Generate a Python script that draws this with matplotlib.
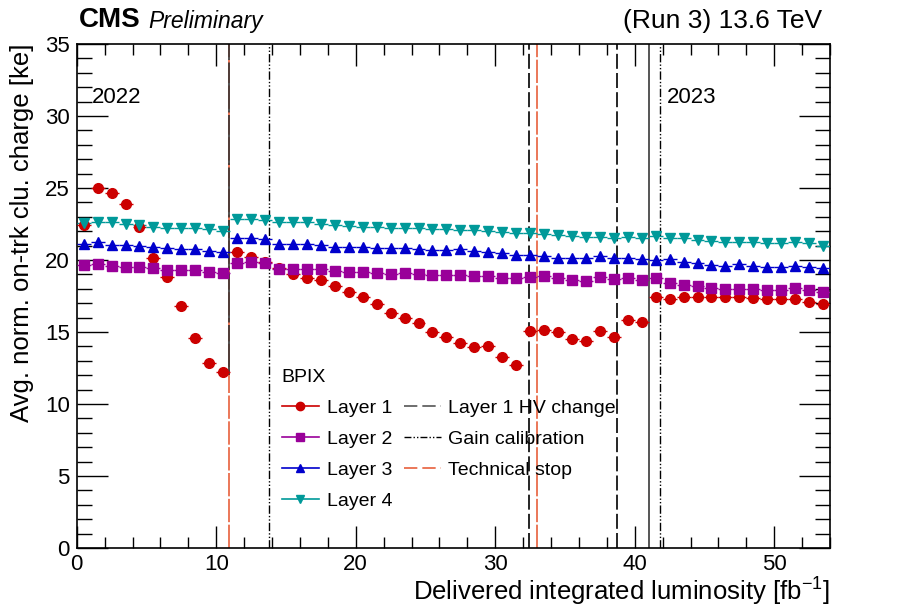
import numpy as np
import matplotlib.pyplot as plt
from matplotlib.lines import Line2D
from matplotlib.ticker import MultipleLocator

plt.rcParams['font.family'] = ['Liberation Sans', 'DejaVu Sans']
plt.rcParams['mathtext.fontset'] = 'custom'
plt.rcParams['mathtext.rm'] = 'Liberation Sans'

# bin centres [fb-1]
lumi = [0.5, 1.5, 2.5, 3.5, 4.5, 5.5, 6.5, 7.5, 8.5, 9.5,
        10.5, 11.5, 12.5, 13.5, 14.5, 15.5, 16.5, 17.5, 18.5, 19.5,
        20.5, 21.5, 22.5, 23.5, 24.5, 25.5, 26.5, 27.5, 28.5, 29.5,
        30.5, 31.5, 32.5, 33.5, 34.5, 35.5, 36.5, 37.5, 38.5, 39.5,
        40.5, 41.5, 42.5, 43.5, 44.5, 45.5, 46.5, 47.5, 48.5, 49.5,
        50.5, 51.5, 52.5, 53.5]

layer1 = [22.43, 25.02, 24.63, 23.87, 22.31, 20.12, 18.80, 16.81, 14.61, 12.83,
          12.20, 20.53, 20.23, 19.85, 19.42, 19.03, 18.77, 18.61, 18.19, 17.80,
          17.45, 16.92, 16.34, 15.99, 15.65, 15.02, 14.68, 14.26, 13.94, 14.03,
          13.29, 12.71, 15.09, 15.12, 14.98, 14.51, 14.38, 15.07, 14.68, 15.86,
          15.67, 17.45, 17.29, 17.41, 17.45, 17.45, 17.45, 17.45, 17.38, 17.29,
          17.29, 17.29, 17.06, 16.92]
layer2 = [19.65, 19.72, 19.58, 19.54, 19.54, 19.42, 19.31, 19.31, 19.31, 19.14,
          19.12, 19.77, 19.88, 19.81, 19.35, 19.38, 19.38, 19.38, 19.24, 19.19,
          19.19, 19.12, 19.03, 19.12, 19.03, 18.96, 18.96, 18.96, 18.89, 18.89,
          18.77, 18.73, 18.84, 18.89, 18.73, 18.61, 18.54, 18.84, 18.70, 18.75,
          18.61, 18.73, 18.43, 18.26, 18.19, 18.08, 17.99, 17.99, 17.99, 17.92,
          17.92, 18.08, 17.92, 17.80]
layer3 = [21.09, 21.23, 21.04, 21.04, 20.97, 20.93, 20.86, 20.76, 20.76, 20.65,
          20.53, 21.51, 21.51, 21.44, 21.11, 21.11, 21.09, 21.04, 20.93, 20.93,
          20.93, 20.81, 20.86, 20.86, 20.76, 20.69, 20.69, 20.74, 20.65, 20.58,
          20.46, 20.35, 20.35, 20.28, 20.16, 20.16, 20.12, 20.28, 20.12, 20.12,
          20.05, 20.00, 20.05, 19.88, 19.77, 19.65, 19.58, 19.70, 19.58, 19.54,
          19.54, 19.61, 19.54, 19.42]
layer4 = [22.55, 22.66, 22.61, 22.50, 22.43, 22.31, 22.24, 22.20, 22.20, 22.13,
          22.04, 22.82, 22.82, 22.78, 22.66, 22.64, 22.61, 22.52, 22.43, 22.37,
          22.31, 22.31, 22.24, 22.24, 22.24, 22.15, 22.15, 22.08, 22.08, 22.04,
          21.97, 21.90, 21.90, 21.81, 21.74, 21.67, 21.62, 21.57, 21.56, 21.57,
          21.51, 21.67, 21.51, 21.51, 21.39, 21.32, 21.23, 21.23, 21.23, 21.16,
          21.16, 21.23, 21.16, 20.99]

hv_change = [10.9, 32.4, 38.7]
gain_calib = [13.8, 41.8]
tech_stop = [10.9, 33.0]
year_change = 41.0

series = [
    ("Layer 1", layer1, "#cc0000", "o", 7),
    ("Layer 2", layer2, "#990099", "s", 7),
    ("Layer 3", layer3, "#0000cc", "^", 7),
    ("Layer 4", layer4, "#009999", "v", 7),
]

fig = plt.figure(figsize=(9.23, 6.11), dpi=100)
ax = fig.add_axes([0.0831, 0.1031, 0.8162, 0.8249])

# vertical markers
for x in tech_stop:
    ax.axvline(x, color="#e8603c", lw=1.2, dashes=(14, 1.5), zorder=1)
ax.axvline(hv_change[0], ymin=12/35, color="#333333", lw=1.2, dashes=(30, 1.5), zorder=1.5)
for x in hv_change[1:]:
    ax.axvline(x, color="black", lw=1.2, dashes=(9, 2.5), zorder=1.5)
for x in gain_calib:
    ax.axvline(x, color="black", lw=1.0, dashes=(6, 1.5, 1, 1.5, 1, 1.5), zorder=1.5)
ax.axvline(year_change, color="#555555", lw=1.4, zorder=1.5)

for name, vals, col, mk, ms in series:
    ax.errorbar(lumi, vals, xerr=0.5, fmt=mk, color=col, ms=ms, mec=col,
                elinewidth=1.0, capsize=0, zorder=3)

ax.set_xlim(0, 54)
ax.set_ylim(0, 35)
ax.xaxis.set_major_locator(MultipleLocator(10))
ax.xaxis.set_minor_locator(MultipleLocator(2))
ax.yaxis.set_major_locator(MultipleLocator(5))
ax.yaxis.set_minor_locator(MultipleLocator(1))
ax.tick_params(which="both", direction="in", top=True, right=True, labelsize=16, width=1)
ax.tick_params(axis="x", which="major", length=16, pad=4)
ax.tick_params(axis="x", which="minor", length=8)
ax.tick_params(axis="y", which="major", length=22, pad=5)
ax.tick_params(axis="y", which="minor", length=11)
for s in ax.spines.values():
    s.set_linewidth(1.2)

ax.set_xlabel("Delivered integrated luminosity [fb$^{-1}$]", loc="right", fontsize=18.5, labelpad=0)
ax.set_ylabel("Avg. norm. on-trk clu. charge [ke]", loc="top", fontsize=18.5, labelpad=8)

fig.text(0.085, 0.946, "CMS", fontsize=20, fontweight="bold", va="bottom")
fig.text(0.161, 0.946, "Preliminary", fontsize=16.5, style="italic", va="bottom")
fig.text(0.891, 0.946, "(Run 3) 13.6 TeV", fontsize=19, ha="right", va="bottom")

ax.text(1.1, 31.3, "2022", fontsize=16, va="center")
ax.text(42.3, 31.3, "2023", fontsize=16, va="center")

handles = []
for name, vals, col, mk, ms in series:
    handles.append(Line2D([], [], color=col, marker=mk, ms=6, lw=1.2, label=name))
handles.append(Line2D([], [], color="#555555", lw=1.2, dashes=(8, 3), label="Layer 1 HV change"))
handles.append(Line2D([], [], color="black", lw=1.0, dashes=(5, 1.5, 1, 1.5, 1, 1.5), label="Gain calibration"))
handles.append(Line2D([], [], color="#e8603c", lw=1.2, dashes=(8, 3), label="Technical stop"))

leg = ax.legend(handles=handles, ncol=2, title="BPIX", loc="upper left",
                bbox_to_anchor=(0.262, 0.37), frameon=False, fontsize=14,
                title_fontsize=14, alignment="left", handlelength=1.9,
                handletextpad=0.4, columnspacing=0.6, labelspacing=0.68,
                borderaxespad=0)

fig.savefig("out.png", dpi=100)
